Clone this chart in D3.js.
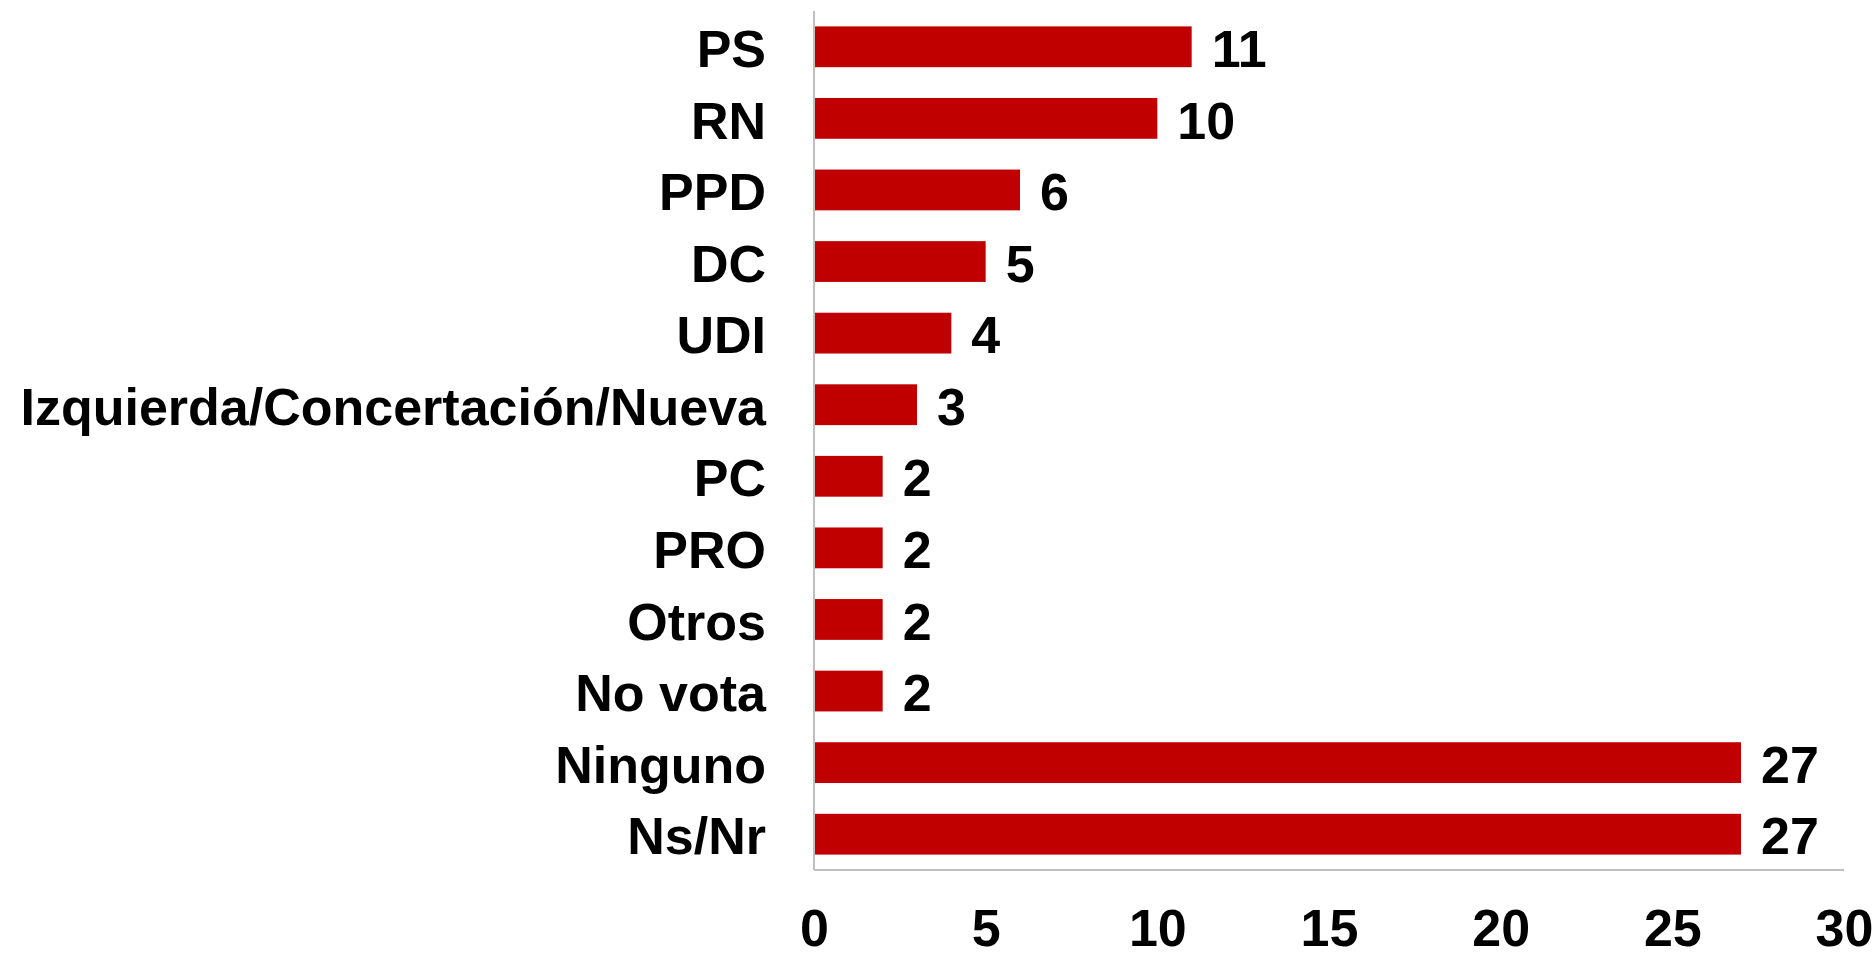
<!DOCTYPE html>
<html>
<head>
<meta charset="utf-8">
<script src="https://cdn.jsdelivr.net/npm/d3@7"></script>
<style>
  body { margin: 0; background: #fff; }
  text { font-family: "Liberation Sans", Arial, sans-serif; font-weight: bold; fill: #000; }
</style>
</head>
<body>
<div id="chart"></div>
<script>
const categories = ["PS", "RN", "PPD", "DC", "UDI", "Izquierda/Concertación/Nueva", "PC", "PRO", "Otros", "No vota", "Ninguno", "Ns/Nr"];
const values = [11, 10, 6, 5, 4, 3, 2, 2, 2, 2, 27, 27];
const xTicks = [0, 5, 10, 15, 20, 25, 30];

const width = 1876, height = 959;
const margin = {top: 11, right: 32, bottom: 89, left: 814};
const fontSize = 52;

const data = categories.map((c, i) => ({cat: c, value: values[i]}));

const svg = d3.select('#chart').append('svg')
  .attr('width', width).attr('height', height);

const x = d3.scaleLinear()
  .domain([0, 30])
  .range([margin.left, width - margin.right]);

const y = d3.scaleBand()
  .domain(categories)
  .range([margin.top, height - margin.bottom])
  .paddingInner(0.43)
  .paddingOuter(0.215);

// bars
svg.append('g').selectAll('rect').data(data)
  .join('rect')
  .attr('x', x(0))
  .attr('y', d => y(d.cat))
  .attr('width', d => x(d.value) - x(0))
  .attr('height', y.bandwidth())
  .attr('fill', '#c00000');

// value labels
svg.append('g').selectAll('text').data(data)
  .join('text')
  .attr('x', d => x(d.value) + 20)
  .attr('y', d => y(d.cat) + y.bandwidth() / 2 + 2)
  .attr('dy', '0.35em')
  .attr('font-size', fontSize)
  .text(d => d.value);

// category labels
svg.append('g').selectAll('text').data(data)
  .join('text')
  .attr('x', x(0) - 48)
  .attr('y', d => y(d.cat) + y.bandwidth() / 2 + 2)
  .attr('dy', '0.35em')
  .attr('text-anchor', 'end')
  .attr('font-size', fontSize)
  .text(d => d.cat);

// axis lines
const y0 = height - margin.bottom;
svg.append('line')
  .attr('x1', x(0)).attr('x2', x(0))
  .attr('y1', margin.top).attr('y2', y0)
  .attr('stroke', '#bfbfbf').attr('stroke-width', 2);
svg.append('line')
  .attr('x1', x(0)).attr('x2', x(30))
  .attr('y1', y0).attr('y2', y0)
  .attr('stroke', '#bfbfbf').attr('stroke-width', 2);

// x tick labels
const xAxis = svg.append('g')
  .attr('transform', `translate(0, ${y0})`)
  .call(d3.axisBottom(x).tickValues(xTicks).tickSize(0));
xAxis.select('.domain').remove();
xAxis.selectAll('text')
  .attr('y', 76)
  .attr('dy', null)
  .attr('font-size', fontSize)
  .attr('font-family', '"Liberation Sans", Arial, sans-serif')
  .attr('font-weight', 'bold')
  .attr('fill', '#000');
</script>
</body>
</html>
